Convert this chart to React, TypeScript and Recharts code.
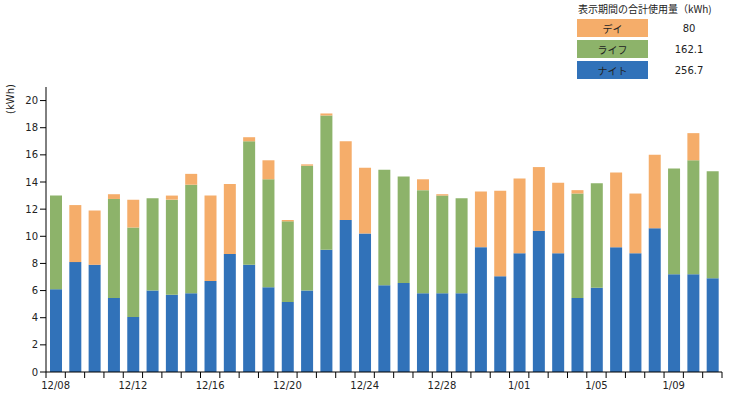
import React from 'react';
import { BarChart, Bar, XAxis, YAxis } from 'recharts';

const dates = [
  '12/08', '12/09', '12/10', '12/11', '12/12', '12/13', '12/14', '12/15', '12/16', '12/17',
  '12/18', '12/19', '12/20', '12/21', '12/22', '12/23', '12/24', '12/25', '12/26', '12/27',
  '12/28', '12/29', '12/30', '12/31', '1/01', '1/02', '1/03', '1/04', '1/05', '1/06',
  '1/07', '1/08', '1/09', '1/10', '1/11',
];
const night = [6.1, 8.1, 7.9, 5.45, 4.05, 6.0, 5.7, 5.8, 6.7, 8.7, 7.9, 6.25, 5.15, 6.0, 9.0, 11.2, 10.2, 6.4, 6.55, 5.8, 5.8, 5.8, 9.2, 7.05, 8.75, 10.4, 8.75, 5.45, 6.2, 9.2, 8.75, 10.6, 7.2, 7.2, 6.9];
const life = [6.9, 0, 0, 7.3, 6.6, 6.8, 7.0, 8.0, 0, 0, 9.1, 7.95, 5.95, 9.2, 9.9, 0, 0, 8.5, 7.85, 7.6, 7.2, 7.0, 0, 0, 0, 0, 0, 7.7, 7.7, 0, 0, 0, 7.8, 8.4, 7.9];
const day = [0, 4.2, 4.0, 0.35, 2.05, 0, 0.3, 0.8, 6.3, 5.15, 0.3, 1.4, 0.1, 0.1, 0.15, 5.8, 4.85, 0, 0, 0.8, 0.1, 0, 4.1, 6.3, 5.5, 4.7, 5.2, 0.25, 0, 5.5, 4.4, 5.4, 0, 2.0, 0];
const yTicks = [0, 2, 4, 6, 8, 10, 12, 14, 16, 18, 20];
const legendLabels = ['デイ', 'ライフ', 'ナイト'];
const legendTotals = ['80', '162.1', '256.7'];
const legendTitle = '表示期間の合計使用量（kWh)';

const COLORS = { day: '#F5AD6A', life: '#8DB36A', night: '#3172B9' };
const legendColors = [COLORS.day, COLORS.life, COLORS.night];

const data = dates.map((d, i) => ({ date: d, night: night[i], life: life[i], day: day[i] }));

const W = 738;
const H = 398;
const M = { top: 87, right: 16, bottom: 6, left: 0 };
const Y_W = 46;
const PLOT_W = W - M.left - M.right - Y_W;
const BW = PLOT_W / dates.length;
const FONT = '"DejaVu Sans", Verdana, sans-serif';

const XTick = (props: any) => {
  const { x, y, index, payload } = props;
  const left = x - BW / 2;
  const isLast = index === dates.length - 1;
  return (
    <g>
      <line x1={left} y1={y} x2={left} y2={y + 6} stroke="#000" />
      {isLast && <line x1={x + BW / 2} y1={y} x2={x + BW / 2} y2={y + 6} stroke="#000" />}
      {index % 4 === 0 && (
        <text x={x} y={y + 17} textAnchor="middle" fontSize={10} fontFamily={FONT} fill="#222">
          {payload.value}
        </text>
      )}
    </g>
  );
};

export default function App() {
  return (
    <div style={{ position: 'absolute', left: 0, top: 0, width: W, height: H, background: '#fff' }}>
      <BarChart width={W} height={H} data={data} margin={M} barSize={12}>
        <XAxis
          dataKey="date"
          interval={0}
          tickLine={false}
          tickSize={0}
          tickMargin={0}
          height={20}
          axisLine={{ stroke: '#000' }}
          tick={<XTick />}
        />
        <YAxis
          width={Y_W}
          domain={[0, 21]}
          ticks={yTicks}
          interval={0}
          axisLine={{ stroke: '#000' }}
          tickLine={{ stroke: '#000' }}
          tick={{ fontSize: 10, fontFamily: FONT, fill: '#222' }}
        />
        <Bar dataKey="night" stackId="a" fill={COLORS.night} isAnimationActive={false} />
        <Bar dataKey="life" stackId="a" fill={COLORS.life} isAnimationActive={false} />
        <Bar dataKey="day" stackId="a" fill={COLORS.day} isAnimationActive={false} />
      </BarChart>
      <div
        style={{
          position: 'absolute', left: 10, top: 99, transform: 'translate(-50%, -50%) rotate(-90deg)',
          fontFamily: FONT, fontSize: 10, color: '#222', whiteSpace: 'nowrap',
        }}
      >
        (kWh)
      </div>
      <div
        style={{
          position: 'absolute', left: 578, top: 2, fontFamily: '"Noto Sans CJK JP", sans-serif',
          fontSize: 10, color: '#222', whiteSpace: 'nowrap', lineHeight: '14px',
        }}
      >
        {legendTitle}
      </div>
      {legendLabels.map((lab, i) => (
        <React.Fragment key={lab}>
          <div
            style={{
              position: 'absolute', left: 577, top: 19 + i * 21, width: 71, height: 18,
              background: legendColors[i], display: 'flex', alignItems: 'center', justifyContent: 'center',
              fontFamily: '"Noto Sans CJK JP", sans-serif', fontSize: 10, color: '#222',
            }}
          >
            {lab}
          </div>
          <div
            style={{
              position: 'absolute', left: 659, top: 19 + i * 21, width: 60, height: 18,
              display: 'flex', alignItems: 'center', justifyContent: 'center',
              fontFamily: FONT, fontSize: 10, color: '#222',
            }}
          >
            {legendTotals[i]}
          </div>
        </React.Fragment>
      ))}
    </div>
  );
}
